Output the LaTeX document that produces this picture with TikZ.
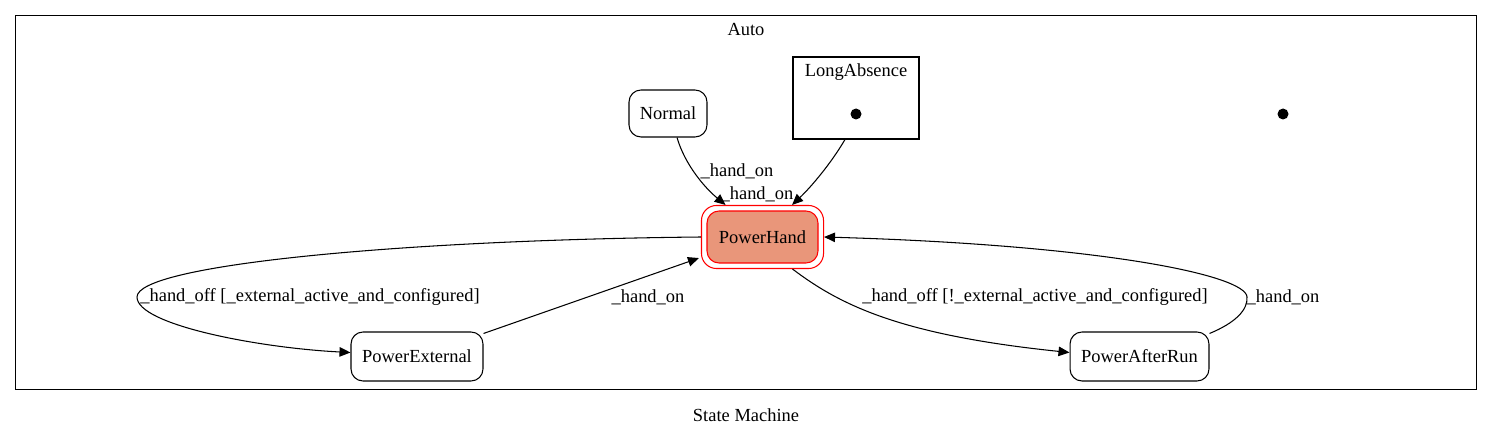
\documentclass[tikz,border=0pt]{standalone}
\usepackage{fontspec}
\setmainfont{Liberation Serif}
\usetikzlibrary{arrows.meta, positioning, calc, fit}
\definecolor{handfill}{RGB}{233,150,122}

\begin{document}
\begin{tikzpicture}[x=0.02cm, y=-0.02cm, font=\fontsize{10.5}{12.6}\selectfont, line width=0.6pt]
    \tikzstyle{state} = [rectangle, rounded corners=0.24cm, minimum height=0.98cm, text centered, draw=black]
    \tikzstyle{group} = [rectangle, draw=black, inner sep=0]
    \tikzstyle{point} = [circle, fill=black, inner sep=0, minimum size=0.22cm]
    \tikzstyle{arrow} = [-{Triangle[length=0.22cm, width=0.19cm]}]
    \useasboundingbox (0,0) rectangle (1493,438);
    % outer cluster
    \node (auto) [group, minimum width=29.24cm, minimum height=7.5cm] at (746,202.5) {};
    \node (autolabel) at (746,30) {Auto};
    \node (caption) at (746,415) {State Machine};
    % long absence cluster
    \node (longabsence) [group, minimum width=2.52cm, minimum height=1.64cm] at (856,98) {};
    \node (longlabel) at (856,72) {LongAbsence};
    \node (longinit) [point] at (856,114) {};
    \node (autoinit) [point] at (1283,114) {};
    % states
    \node (normal) [state, minimum width=1.56cm, minimum height=0.94cm] at (668,113.5) {Normal};
    \node (hand) [state, draw=red, fill=handfill, minimum width=2.22cm, minimum height=1.04cm] at (762.5,237) {PowerHand};
    \node (handring) [rectangle, rounded corners=0.3cm, draw=red, fit=(hand), inner sep=0.1cm] {};
    \node (external) [state, minimum width=2.64cm] at (417,356.5) {PowerExternal};
    \node (afterrun) [state, minimum width=2.78cm] at (1139.5,356.5) {PowerAfterRun};
    % labels
    \node (lblnormal) at (737,171) {\_hand\_on};
    \node (lbllong) at (757,194) {\_hand\_on};
    \node (lbloff) at (310,297) {\_hand\_off [\_external\_active\_and\_configured]};
    \node (lblexton) at (648,297) {\_hand\_on};
    \node (lbloffnot) at (1035,297) {\_hand\_off [!\_external\_active\_and\_configured]};
    \node (lblafteron) at (1283,297) {\_hand\_on};
    % transitions
    \draw [arrow] (normal.south) ++(9,0) .. controls (685,165) and (705,188) .. ($(handring.north west)!0.2!(handring.north east)$);
    \draw [arrow] ($(longabsence.south)+(-11,0)$) .. controls (830,165) and (810,188) .. ($(handring.north west)!0.74!(handring.north east)$);
    \draw [arrow] (handring.west) .. controls (400,240) and (137,265) .. (137,297) .. controls (137,325) and (260,348) .. ($(external.west)+(0,-4)$);
    \draw [arrow] ($(external.north east)+(0,2)$) -- ($(handring.south west)+(-2,-11)$);
    \draw [arrow] ($(handring.south)+(30,0)$) .. controls (840,305) and (900,335) .. ($(afterrun.west)+(0,-4)$);
    \draw [arrow] ($(afterrun.north east)+(0,2)$) .. controls (1235,323) and (1248,310) .. (1247,297) .. controls (1246,275) and (1100,245) .. (handring.east);
\end{tikzpicture}
\end{document}
